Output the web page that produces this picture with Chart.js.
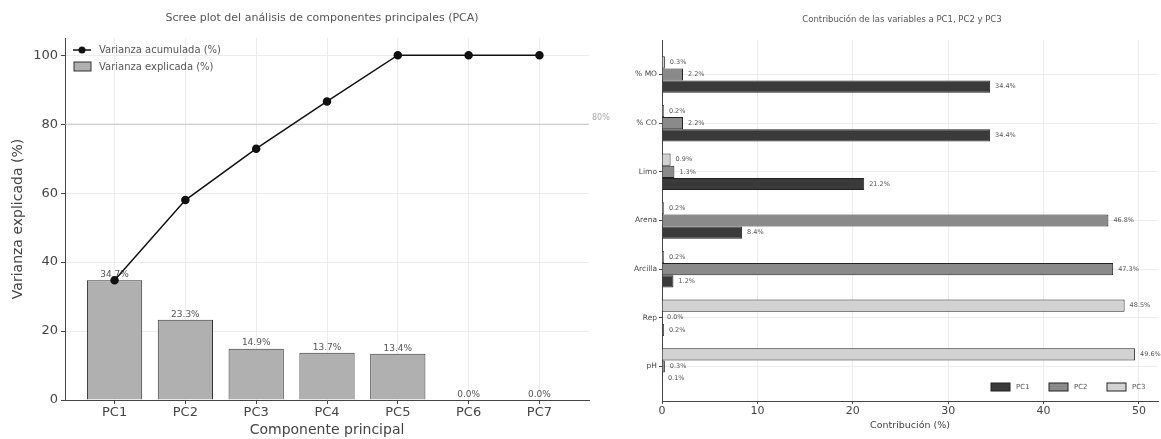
<!DOCTYPE html>
<html>
<head>
<meta charset="utf-8">
<script src="https://cdn.jsdelivr.net/npm/chart.js@4.4.1/dist/chart.umd.min.js"></script>
<style>
  html, body { margin: 0; padding: 0; background: #fff; }
  #left { position: absolute; left: 0; top: 0; width: 620px; height: 439px; }
  #right { position: absolute; left: 600px; top: 0; width: 561px; height: 439px; }
</style>
</head>
<body>
<div id="left"><canvas id="scree"></canvas></div>
<div id="right"><canvas id="contrib"></canvas></div>
<script>
// scree plot data
const components = ['PC1', 'PC2', 'PC3', 'PC4', 'PC5', 'PC6', 'PC7'];
const explained = [34.7, 23.3, 14.9, 13.7, 13.4, 0.0, 0.0];
const cumulative = [34.7, 58.0, 72.9, 86.6, 100.0, 100.0, 100.0];
const threshold = 80;

// contributions per variable
const variables = ['% MO', '% CO', 'Limo', 'Arena', 'Arcilla', 'Rep', 'pH'];
const pc1 = [34.4, 34.4, 21.2, 8.4, 1.2, 0.2, 0.1];
const pc2 = [2.2, 2.2, 1.3, 46.8, 47.3, 0.0, 0.3];
const pc3 = [0.3, 0.2, 0.9, 0.2, 0.2, 48.5, 49.6];
const contribTicks = [0, 10, 20, 30, 40, 50];

const FONT = "'DejaVu Sans', sans-serif";
const gridColor = '#ececec';

const screeDecor = {
  id: 'screeDecor',
  beforeDatasetsDraw(chart) {
    const { ctx, chartArea } = chart;
    const y = chart.scales.y.getPixelForValue(threshold);
    ctx.save();
    ctx.strokeStyle = '#c4c4c4';
    ctx.lineWidth = 1;
    ctx.beginPath();
    ctx.moveTo(chartArea.left, y);
    ctx.lineTo(chartArea.right, y);
    ctx.stroke();
    ctx.restore();
  },
  afterDatasetDraw(chart, args) {
    if (args.index !== 1) return;
    const { ctx } = chart;
    ctx.save();
    ctx.font = '9px ' + FONT;
    ctx.fillStyle = '#555';
    ctx.textAlign = 'center';
    ctx.textBaseline = 'bottom';
    args.meta.data.forEach((bar, i) => {
      ctx.fillText(explained[i].toFixed(1) + '%', bar.x, bar.y - 1);
    });
    ctx.restore();
  },
  afterDraw(chart) {
    const { ctx, chartArea } = chart;
    ctx.save();
    // title
    ctx.font = '11px ' + FONT;
    ctx.fillStyle = '#555';
    ctx.textAlign = 'center';
    ctx.textBaseline = 'middle';
    ctx.fillText('Scree plot del análisis de componentes principales (PCA)', 322, 18);
    // threshold label
    const y = chart.scales.y.getPixelForValue(threshold);
    ctx.font = '8px ' + FONT;
    ctx.fillStyle = '#aaa';
    ctx.textAlign = 'left';
    ctx.fillText(threshold + '%', chartArea.right + 3, y - 6);
    // legend
    const lx = chartArea.left + 8;
    ctx.strokeStyle = '#111';
    ctx.lineWidth = 1.5;
    ctx.beginPath();
    ctx.moveTo(lx, 50);
    ctx.lineTo(lx + 18, 50);
    ctx.stroke();
    ctx.fillStyle = '#111';
    ctx.beginPath();
    ctx.arc(lx + 9, 50, 3.5, 0, Math.PI * 2);
    ctx.fill();
    ctx.fillStyle = '#b0b0b0';
    ctx.fillRect(lx + 1, 62, 17, 9);
    ctx.strokeStyle = '#333';
    ctx.lineWidth = 1;
    ctx.strokeRect(lx + 1, 62, 17, 9);
    ctx.font = '10px ' + FONT;
    ctx.fillStyle = '#555';
    ctx.textAlign = 'left';
    ctx.fillText('Varianza acumulada (%)', lx + 26, 50);
    ctx.fillText('Varianza explicada (%)', lx + 26, 67);
    ctx.restore();
  }
};

new Chart(document.getElementById('scree'), {
  type: 'bar',
  data: {
    datasets: [
      {
        type: 'line',
        label: 'Varianza acumulada (%)',
        data: cumulative.map((v, i) => ({ x: i, y: v })),
        borderColor: '#111',
        backgroundColor: '#111',
        borderWidth: 1.5,
        pointRadius: 3.5,
        pointHoverRadius: 3.5,
        order: 0
      },
      {
        type: 'bar',
        label: 'Varianza explicada (%)',
        data: explained.map((v, i) => ({ x: i, y: v })),
        backgroundColor: '#b0b0b0',
        borderColor: '#333',
        borderWidth: 1,
        barPercentage: 0.78,
        categoryPercentage: 1,
        order: 1
      }
    ]
  },
  options: {
    responsive: true,
    maintainAspectRatio: false,
    animation: false,
    layout: { padding: { top: 38, right: 31, left: 0, bottom: 0 } },
    plugins: { legend: { display: false }, tooltip: { enabled: false } },
    scales: {
      x: {
        type: 'linear',
        offset: false,
        min: -0.7,
        max: 6.7,
        afterBuildTicks: s => { s.ticks = components.map((_, i) => ({ value: i })); },
        afterFit: s => { s.height = 39; },
        ticks: {
          callback: v => components[v] || '',
          font: { family: FONT, size: 13 },
          color: '#444',
          padding: 1,
          maxRotation: 0
        },
        grid: { offset: false, color: gridColor, tickColor: '#444', tickLength: 4 },
        border: { color: '#444' },
        title: {
          display: true,
          text: 'Componente principal',
          font: { family: FONT, size: 14 },
          color: '#444',
          padding: { top: 0, bottom: 0 }
        }
      },
      y: {
        min: 0,
        max: 105,
        afterBuildTicks: s => { s.ticks = s.ticks.filter(t => t.value % 20 === 0); },
        afterFit: s => { s.width = 65; },
        ticks: {
          stepSize: 20,
          font: { family: FONT, size: 13 },
          color: '#444',
          padding: 3
        },
        grid: { color: gridColor, tickColor: '#444', tickLength: 4 },
        border: { color: '#444' },
        title: {
          display: true,
          text: 'Varianza explicada (%)',
          font: { family: FONT, size: 14 },
          color: '#444',
          padding: { top: 10, bottom: 0 }
        }
      }
    }
  },
  plugins: [screeDecor]
});

// contribution chart
const pcColors = { PC1: '#3a3a3a', PC2: '#8a8a8a', PC3: '#d2d2d2' };

const contribDecor = {
  id: 'contribDecor',
  afterDatasetsDraw(chart) {
    const { ctx } = chart;
    ctx.save();
    ctx.font = '6.5px ' + FONT;
    ctx.fillStyle = '#555';
    ctx.textAlign = 'left';
    ctx.textBaseline = 'middle';
    chart.data.datasets.forEach((ds, di) => {
      chart.getDatasetMeta(di).data.forEach((bar, i) => {
        ctx.fillText(ds.data[i].x.toFixed(1) + '%', bar.x + 5, bar.y);
      });
    });
    ctx.restore();
  },
  afterDraw(chart) {
    const { ctx, chartArea } = chart;
    ctx.save();
    ctx.font = '8.5px ' + FONT;
    ctx.fillStyle = '#555';
    ctx.textAlign = 'center';
    ctx.textBaseline = 'middle';
    ctx.fillText('Contribución de las variables a PC1, PC2 y PC3', 302, 20);
    // legend, bottom right
    const names = ['PC1', 'PC2', 'PC3'];
    const ly = chartArea.bottom - 14;
    ctx.font = '7px ' + FONT;
    ctx.textAlign = 'left';
    names.forEach((n, k) => {
      const bx = chartArea.right - 167 + k * 58;
      ctx.fillStyle = pcColors[n];
      ctx.fillRect(bx, ly - 4, 19, 8);
      ctx.strokeStyle = '#222';
      ctx.lineWidth = 1;
      ctx.strokeRect(bx, ly - 4, 19, 8);
      ctx.fillStyle = '#555';
      ctx.fillText(n, bx + 25, ly);
    });
    ctx.restore();
  }
};

const makeSeries = (label, values) => ({
  label,
  data: values.map((v, i) => ({ x: v, y: i })),
  backgroundColor: pcColors[label],
  borderColor: '#222',
  borderWidth: 1,
  barPercentage: 1,
  categoryPercentage: 0.75
});

new Chart(document.getElementById('contrib'), {
  type: 'bar',
  data: {
    // PC3 first so it sits on top within each group
    datasets: [makeSeries('PC3', pc3), makeSeries('PC2', pc2), makeSeries('PC1', pc1)]
  },
  options: {
    indexAxis: 'y',
    responsive: true,
    maintainAspectRatio: false,
    animation: false,
    layout: { padding: { top: 40, right: 3, left: 0, bottom: 0 } },
    plugins: { legend: { display: false }, tooltip: { enabled: false } },
    scales: {
      x: {
        type: 'linear',
        min: 0,
        max: 52,
        afterBuildTicks: s => { s.ticks = contribTicks.map(v => ({ value: v })); },
        afterFit: s => { s.height = 38; },
        ticks: {
          font: { family: FONT, size: 11 },
          color: '#444',
          padding: 1
        },
        grid: { color: gridColor, tickColor: '#444', tickLength: 3 },
        border: { color: '#444' },
        title: {
          display: true,
          text: 'Contribución (%)',
          font: { family: FONT, size: 9.5 },
          color: '#444',
          padding: { top: 0, bottom: 8 }
        }
      },
      y: {
        type: 'linear',
        offset: false,
        reverse: true,
        min: -0.71,
        max: 6.71,
        afterBuildTicks: s => { s.ticks = variables.map((_, i) => ({ value: i })); },
        afterFit: s => { s.width = 62; },
        ticks: {
          callback: v => variables[v] || '',
          font: { family: FONT, size: 7.5 },
          color: '#444',
          padding: 2
        },
        grid: { offset: false, color: gridColor, tickColor: '#444', tickLength: 3 },
        border: { color: '#444' }
      }
    }
  },
  plugins: [contribDecor]
});
</script>
</body>
</html>
